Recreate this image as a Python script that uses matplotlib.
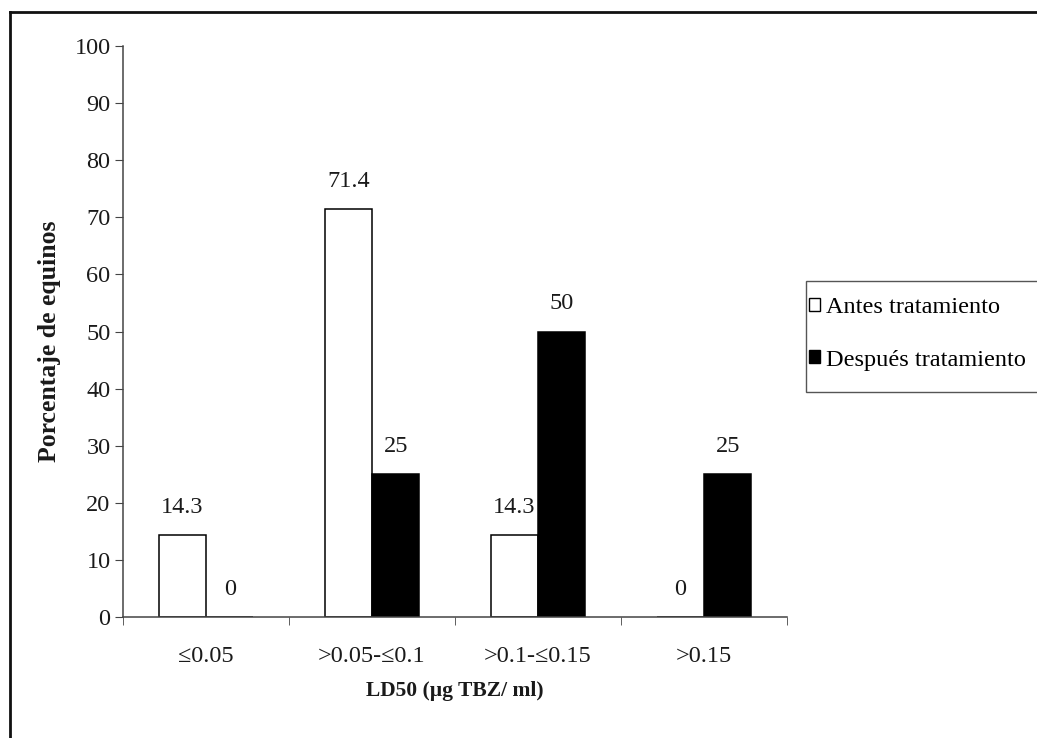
import matplotlib
matplotlib.use("Agg")
import matplotlib.pyplot as plt
from matplotlib.patches import Patch, Rectangle
from matplotlib.lines import Line2D
import numpy as np

categories = ["\u22640.05", ">0.05-\u22640.1", ">0.1-\u22640.15", ">0.15"]
antes = [14.3, 71.4, 14.3, 0]
despues = [0, 25, 50, 25]
series_names = ["Antes tratamiento", "Despu\u00e9s tratamiento"]
y_ticks = list(range(0, 101, 10))

plt.rcParams["font.family"] = ["Liberation Serif", "DejaVu Serif"]

W, H = 1037, 738
TXT = "#1a1a1a"
fig = plt.figure(figsize=(W / 100, H / 100), dpi=100)
fig.patch.set_facecolor("white")

ax = fig.add_axes([123 / W, 1 - 617 / H, (787 - 123) / W, (617 - 46) / H])

x = np.arange(len(categories))
bw = 0.285
b1 = ax.bar(x - bw / 2, antes, bw, color="white", edgecolor="black", linewidth=1.1)
b2 = ax.bar(x + bw / 2, despues, bw, color="black", edgecolor="black", linewidth=1.1)

for bars, vals in ((b1, antes), (b2, despues)):
    for rect, v in zip(bars, vals):
        ax.annotate(f"{v:g}", (rect.get_x() + rect.get_width() / 2, v),
                    xytext=(0, 20), textcoords="offset points",
                    ha="center", va="center", fontsize=17.5, color=TXT)

ax.set_xlim(-0.5, len(categories) - 0.5)
ax.set_ylim(0, 100)
ax.set_yticks(y_ticks)
ax.set_yticklabels([str(t) for t in y_ticks], fontsize=17.5, color=TXT)
ax.set_xticks(x)
ax.set_xticklabels(categories, fontsize=17.5, color=TXT)
ax.tick_params(axis="x", length=0, pad=21)
ax.set_xticks(np.arange(-0.5, len(categories)), minor=True)
ax.tick_params(axis="x", which="minor", length=6, direction="out", color="#444444")
ax.tick_params(axis="y", length=6, direction="out", pad=3, color="#444444")

for s in ("top", "right"):
    ax.spines[s].set_visible(False)
for s in ("left", "bottom"):
    ax.spines[s].set_color("#444444")
    ax.spines[s].set_linewidth(1.1)

ax.set_ylabel("Porcentaje de equinos", fontsize=18.5, fontweight="bold", color=TXT)
ax.yaxis.set_label_coords(-0.093, 0.483)
ax.set_xlabel("LD50 (\u00b5g TBZ/ ml)", fontsize=15.5, fontweight="bold",
              color=TXT, labelpad=10)

# legend box drawn as a plain rectangle, entries placed inside it
fig.add_artist(Rectangle((806 / W, 1 - 392 / H), (1040 - 806) / W, (392 - 281) / H,
                         transform=fig.transFigure, facecolor="white",
                         edgecolor="#555555", linewidth=1.0))
handles = [Patch(facecolor="white", edgecolor="black", linewidth=1.0),
           Patch(facecolor="black", edgecolor="black", linewidth=1.0)]
leg = fig.legend(handles, series_names, loc="upper left",
                 bbox_to_anchor=(809 / W, 1 - 297 / H), bbox_transform=fig.transFigure,
                 fontsize=17.5, frameon=False,
                 handlelength=0.45, handleheight=0.45, handletextpad=0.25,
                 labelspacing=1.3, borderpad=0, borderaxespad=0)

# frame lines along the top and left of the figure
fig.add_artist(Line2D([10 / W, 10 / W], [0, 1 - 12 / H], transform=fig.transFigure,
                      color="#111111", linewidth=2))
fig.add_artist(Line2D([10 / W, 1], [1 - 12 / H, 1 - 12 / H], transform=fig.transFigure,
                      color="#111111", linewidth=2))

fig.savefig("out.png", dpi=100)
